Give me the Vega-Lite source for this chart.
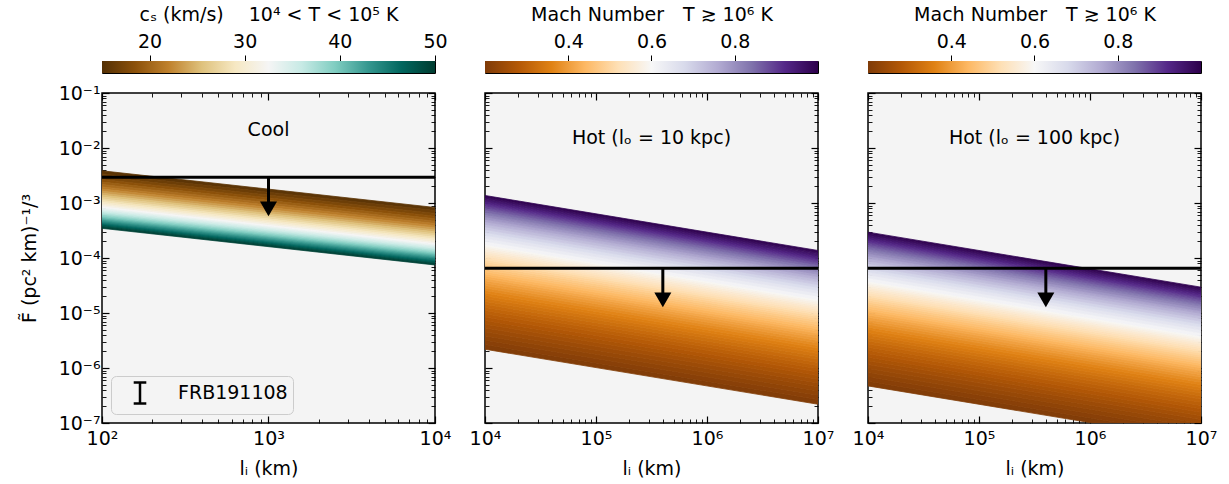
{
"$schema":"https://vega.github.io/schema/vega-lite/v6.json",
"padding":{"left":19,"top":4,"right":0,"bottom":0},
"background":"white",
"config":{"font":"DejaVu Sans","view":{"stroke":null},
"axis":{"labelFontSize":19,"titleFontSize":19,"titleFontWeight":"normal","labelColor":"black","titleColor":"black","tickColor":"black","grid":false,"domain":false,"labelFlush":false,"labelOverlap":false,"labelBound":false},
"title":{"fontSize":19,"fontWeight":"normal","color":"black"},
"legend":{"labelFontSize":19,"labelColor":"black"}},
"datasets":{
"cool":[
{"c":15.5,"l":100,"y":3.849e-3,"y2":3.383e-3},{"c":15.5,"l":10000,"y":8.292e-4,"y2":7.288e-4},
{"c":16.5,"l":100,"y":3.383e-3,"y2":2.997e-3},{"c":16.5,"l":10000,"y":7.288e-4,"y2":6.457e-4},
{"c":17.5,"l":100,"y":2.997e-3,"y2":2.673e-3},{"c":17.5,"l":10000,"y":6.457e-4,"y2":5.759e-4},
{"c":18.5,"l":100,"y":2.673e-3,"y2":2.399e-3},{"c":18.5,"l":10000,"y":5.759e-4,"y2":5.168e-4},
{"c":19.5,"l":100,"y":2.399e-3,"y2":2.165e-3},{"c":19.5,"l":10000,"y":5.168e-4,"y2":4.664e-4},
{"c":20.5,"l":100,"y":2.165e-3,"y2":1.964e-3},{"c":20.5,"l":10000,"y":4.664e-4,"y2":4.231e-4},
{"c":21.5,"l":100,"y":1.964e-3,"y2":1.789e-3},{"c":21.5,"l":10000,"y":4.231e-4,"y2":3.854e-4},
{"c":22.5,"l":100,"y":1.789e-3,"y2":1.637e-3},{"c":22.5,"l":10000,"y":3.854e-4,"y2":3.527e-4},
{"c":23.5,"l":100,"y":1.637e-3,"y2":1.503e-3},{"c":23.5,"l":10000,"y":3.527e-4,"y2":3.238e-4},
{"c":24.5,"l":100,"y":1.503e-3,"y2":1.386e-3},{"c":24.5,"l":10000,"y":3.238e-4,"y2":2.986e-4},
{"c":25.5,"l":100,"y":1.386e-3,"y2":1.281e-3},{"c":25.5,"l":10000,"y":2.986e-4,"y2":2.760e-4},
{"c":26.5,"l":100,"y":1.281e-3,"y2":1.188e-3},{"c":26.5,"l":10000,"y":2.760e-4,"y2":2.559e-4},
{"c":27.5,"l":100,"y":1.188e-3,"y2":1.105e-3},{"c":27.5,"l":10000,"y":2.559e-4,"y2":2.381e-4},
{"c":28.5,"l":100,"y":1.105e-3,"y2":1.030e-3},{"c":28.5,"l":10000,"y":2.381e-4,"y2":2.219e-4},
{"c":29.5,"l":100,"y":1.030e-3,"y2":9.622e-4},{"c":29.5,"l":10000,"y":2.219e-4,"y2":2.073e-4},
{"c":30.5,"l":100,"y":9.622e-4,"y2":9.011e-4},{"c":30.5,"l":10000,"y":2.073e-4,"y2":1.941e-4},
{"c":31.5,"l":100,"y":9.011e-4,"y2":8.457e-4},{"c":31.5,"l":10000,"y":1.941e-4,"y2":1.822e-4},
{"c":32.5,"l":100,"y":8.457e-4,"y2":7.952e-4},{"c":32.5,"l":10000,"y":1.822e-4,"y2":1.713e-4},
{"c":33.5,"l":100,"y":7.952e-4,"y2":7.491e-4},{"c":33.5,"l":10000,"y":1.713e-4,"y2":1.614e-4},
{"c":34.5,"l":100,"y":7.491e-4,"y2":7.069e-4},{"c":34.5,"l":10000,"y":1.614e-4,"y2":1.523e-4},
{"c":35.5,"l":100,"y":7.069e-4,"y2":6.682e-4},{"c":35.5,"l":10000,"y":1.523e-4,"y2":1.440e-4},
{"c":36.5,"l":100,"y":6.682e-4,"y2":6.326e-4},{"c":36.5,"l":10000,"y":1.440e-4,"y2":1.363e-4},
{"c":37.5,"l":100,"y":6.326e-4,"y2":5.997e-4},{"c":37.5,"l":10000,"y":1.363e-4,"y2":1.292e-4},
{"c":38.5,"l":100,"y":5.997e-4,"y2":5.694e-4},{"c":38.5,"l":10000,"y":1.292e-4,"y2":1.227e-4},
{"c":39.5,"l":100,"y":5.694e-4,"y2":5.413e-4},{"c":39.5,"l":10000,"y":1.227e-4,"y2":1.166e-4},
{"c":40.5,"l":100,"y":5.413e-4,"y2":5.152e-4},{"c":40.5,"l":10000,"y":1.166e-4,"y2":1.110e-4},
{"c":41.5,"l":100,"y":5.152e-4,"y2":4.909e-4},{"c":41.5,"l":10000,"y":1.110e-4,"y2":1.058e-4},
{"c":42.5,"l":100,"y":4.909e-4,"y2":4.684e-4},{"c":42.5,"l":10000,"y":1.058e-4,"y2":1.009e-4},
{"c":43.5,"l":100,"y":4.684e-4,"y2":4.473e-4},{"c":43.5,"l":10000,"y":1.009e-4,"y2":9.637e-5},
{"c":44.5,"l":100,"y":4.473e-4,"y2":4.277e-4},{"c":44.5,"l":10000,"y":9.637e-5,"y2":9.214e-5},
{"c":45.5,"l":100,"y":4.277e-4,"y2":4.093e-4},{"c":45.5,"l":10000,"y":9.214e-5,"y2":8.818e-5},
{"c":46.5,"l":100,"y":4.093e-4,"y2":3.920e-4},{"c":46.5,"l":10000,"y":8.818e-5,"y2":8.445e-5},
{"c":47.5,"l":100,"y":3.920e-4,"y2":3.759e-4},{"c":47.5,"l":10000,"y":8.445e-5,"y2":8.099e-5},
{"c":48.5,"l":100,"y":3.759e-4,"y2":3.607e-4},{"c":48.5,"l":10000,"y":8.099e-5,"y2":7.771e-5},
{"c":49.5,"l":100,"y":3.607e-4,"y2":3.464e-4},{"c":49.5,"l":10000,"y":7.771e-5,"y2":7.463e-5}
],
"hot10":[
{"c":0.205,"l":1e4,"y":2.192e-6,"y2":2.664e-6},{"c":0.205,"l":1e7,"y":2.192e-7,"y2":2.664e-7},
{"c":0.215,"l":1e4,"y":2.664e-6,"y2":3.209e-6},{"c":0.215,"l":1e7,"y":2.664e-7,"y2":3.209e-7},
{"c":0.225,"l":1e4,"y":3.209e-6,"y2":3.834e-6},{"c":0.225,"l":1e7,"y":3.209e-7,"y2":3.834e-7},
{"c":0.235,"l":1e4,"y":3.834e-6,"y2":4.545e-6},{"c":0.235,"l":1e7,"y":3.834e-7,"y2":4.545e-7},
{"c":0.245,"l":1e4,"y":4.545e-6,"y2":5.352e-6},{"c":0.245,"l":1e7,"y":4.545e-7,"y2":5.352e-7},
{"c":0.255,"l":1e4,"y":5.352e-6,"y2":6.261e-6},{"c":0.255,"l":1e7,"y":5.352e-7,"y2":6.261e-7},
{"c":0.265,"l":1e4,"y":6.261e-6,"y2":7.281e-6},{"c":0.265,"l":1e7,"y":6.261e-7,"y2":7.281e-7},
{"c":0.275,"l":1e4,"y":7.281e-6,"y2":8.421e-6},{"c":0.275,"l":1e7,"y":7.281e-7,"y2":8.421e-7},
{"c":0.285,"l":1e4,"y":8.421e-6,"y2":9.690e-6},{"c":0.285,"l":1e7,"y":8.421e-7,"y2":9.690e-7},
{"c":0.295,"l":1e4,"y":9.690e-6,"y2":1.110e-5},{"c":0.295,"l":1e7,"y":9.690e-7,"y2":1.110e-6},
{"c":0.305,"l":1e4,"y":1.110e-5,"y2":1.265e-5},{"c":0.305,"l":1e7,"y":1.110e-6,"y2":1.265e-6},
{"c":0.315,"l":1e4,"y":1.265e-5,"y2":1.437e-5},{"c":0.315,"l":1e7,"y":1.265e-6,"y2":1.437e-6},
{"c":0.325,"l":1e4,"y":1.437e-5,"y2":1.625e-5},{"c":0.325,"l":1e7,"y":1.437e-6,"y2":1.625e-6},
{"c":0.335,"l":1e4,"y":1.625e-5,"y2":1.831e-5},{"c":0.335,"l":1e7,"y":1.625e-6,"y2":1.831e-6},
{"c":0.345,"l":1e4,"y":1.831e-5,"y2":2.056e-5},{"c":0.345,"l":1e7,"y":1.831e-6,"y2":2.056e-6},
{"c":0.355,"l":1e4,"y":2.056e-5,"y2":2.301e-5},{"c":0.355,"l":1e7,"y":2.056e-6,"y2":2.301e-6},
{"c":0.365,"l":1e4,"y":2.301e-5,"y2":2.568e-5},{"c":0.365,"l":1e7,"y":2.301e-6,"y2":2.568e-6},
{"c":0.375,"l":1e4,"y":2.568e-5,"y2":2.857e-5},{"c":0.375,"l":1e7,"y":2.568e-6,"y2":2.857e-6},
{"c":0.385,"l":1e4,"y":2.857e-5,"y2":3.169e-5},{"c":0.385,"l":1e7,"y":2.857e-6,"y2":3.169e-6},
{"c":0.395,"l":1e4,"y":3.169e-5,"y2":3.507e-5},{"c":0.395,"l":1e7,"y":3.169e-6,"y2":3.507e-6},
{"c":0.405,"l":1e4,"y":3.507e-5,"y2":3.871e-5},{"c":0.405,"l":1e7,"y":3.507e-6,"y2":3.871e-6},
{"c":0.415,"l":1e4,"y":3.871e-5,"y2":4.263e-5},{"c":0.415,"l":1e7,"y":3.871e-6,"y2":4.263e-6},
{"c":0.425,"l":1e4,"y":4.263e-5,"y2":4.684e-5},{"c":0.425,"l":1e7,"y":4.263e-6,"y2":4.684e-6},
{"c":0.435,"l":1e4,"y":4.684e-5,"y2":5.135e-5},{"c":0.435,"l":1e7,"y":4.684e-6,"y2":5.135e-6},
{"c":0.445,"l":1e4,"y":5.135e-5,"y2":5.618e-5},{"c":0.445,"l":1e7,"y":5.135e-6,"y2":5.618e-6},
{"c":0.455,"l":1e4,"y":5.618e-5,"y2":6.134e-5},{"c":0.455,"l":1e7,"y":5.618e-6,"y2":6.134e-6},
{"c":0.465,"l":1e4,"y":6.134e-5,"y2":6.685e-5},{"c":0.465,"l":1e7,"y":6.134e-6,"y2":6.685e-6},
{"c":0.475,"l":1e4,"y":6.685e-5,"y2":7.273e-5},{"c":0.475,"l":1e7,"y":6.685e-6,"y2":7.273e-6},
{"c":0.485,"l":1e4,"y":7.273e-5,"y2":7.898e-5},{"c":0.485,"l":1e7,"y":7.273e-6,"y2":7.898e-6},
{"c":0.495,"l":1e4,"y":7.898e-5,"y2":8.563e-5},{"c":0.495,"l":1e7,"y":7.898e-6,"y2":8.563e-6},
{"c":0.505,"l":1e4,"y":8.563e-5,"y2":9.268e-5},{"c":0.505,"l":1e7,"y":8.563e-6,"y2":9.268e-6},
{"c":0.515,"l":1e4,"y":9.268e-5,"y2":1.002e-4},{"c":0.515,"l":1e7,"y":9.268e-6,"y2":1.002e-5},
{"c":0.525,"l":1e4,"y":1.002e-4,"y2":1.081e-4},{"c":0.525,"l":1e7,"y":1.002e-5,"y2":1.081e-5},
{"c":0.535,"l":1e4,"y":1.081e-4,"y2":1.165e-4},{"c":0.535,"l":1e7,"y":1.081e-5,"y2":1.165e-5},
{"c":0.545,"l":1e4,"y":1.165e-4,"y2":1.254e-4},{"c":0.545,"l":1e7,"y":1.165e-5,"y2":1.254e-5},
{"c":0.555,"l":1e4,"y":1.254e-4,"y2":1.347e-4},{"c":0.555,"l":1e7,"y":1.254e-5,"y2":1.347e-5},
{"c":0.565,"l":1e4,"y":1.347e-4,"y2":1.446e-4},{"c":0.565,"l":1e7,"y":1.347e-5,"y2":1.446e-5},
{"c":0.575,"l":1e4,"y":1.446e-4,"y2":1.550e-4},{"c":0.575,"l":1e7,"y":1.446e-5,"y2":1.550e-5},
{"c":0.585,"l":1e4,"y":1.550e-4,"y2":1.660e-4},{"c":0.585,"l":1e7,"y":1.550e-5,"y2":1.660e-5},
{"c":0.595,"l":1e4,"y":1.660e-4,"y2":1.776e-4},{"c":0.595,"l":1e7,"y":1.660e-5,"y2":1.776e-5},
{"c":0.61,"l":1e4,"y":1.776e-4,"y2":2.024e-4},{"c":0.61,"l":1e7,"y":1.776e-5,"y2":2.024e-5},
{"c":0.63,"l":1e4,"y":2.024e-4,"y2":2.299e-4},{"c":0.63,"l":1e7,"y":2.024e-5,"y2":2.299e-5},
{"c":0.65,"l":1e4,"y":2.299e-4,"y2":2.600e-4},{"c":0.65,"l":1e7,"y":2.299e-5,"y2":2.600e-5},
{"c":0.67,"l":1e4,"y":2.600e-4,"y2":2.929e-4},{"c":0.67,"l":1e7,"y":2.600e-5,"y2":2.929e-5},
{"c":0.69,"l":1e4,"y":2.929e-4,"y2":3.289e-4},{"c":0.69,"l":1e7,"y":2.929e-5,"y2":3.289e-5},
{"c":0.71,"l":1e4,"y":3.289e-4,"y2":3.682e-4},{"c":0.71,"l":1e7,"y":3.289e-5,"y2":3.682e-5},
{"c":0.73,"l":1e4,"y":3.682e-4,"y2":4.108e-4},{"c":0.73,"l":1e7,"y":3.682e-5,"y2":4.108e-5},
{"c":0.75,"l":1e4,"y":4.108e-4,"y2":4.571e-4},{"c":0.75,"l":1e7,"y":4.108e-5,"y2":4.571e-5},
{"c":0.77,"l":1e4,"y":4.571e-4,"y2":5.071e-4},{"c":0.77,"l":1e7,"y":4.571e-5,"y2":5.071e-5},
{"c":0.79,"l":1e4,"y":5.071e-4,"y2":5.612e-4},{"c":0.79,"l":1e7,"y":5.071e-5,"y2":5.612e-5},
{"c":0.81,"l":1e4,"y":5.612e-4,"y2":6.194e-4},{"c":0.81,"l":1e7,"y":5.612e-5,"y2":6.194e-5},
{"c":0.83,"l":1e4,"y":6.194e-4,"y2":6.821e-4},{"c":0.83,"l":1e7,"y":6.194e-5,"y2":6.821e-5},
{"c":0.85,"l":1e4,"y":6.821e-4,"y2":7.494e-4},{"c":0.85,"l":1e7,"y":6.821e-5,"y2":7.494e-5},
{"c":0.87,"l":1e4,"y":7.494e-4,"y2":8.216e-4},{"c":0.87,"l":1e7,"y":7.494e-5,"y2":8.216e-5},
{"c":0.89,"l":1e4,"y":8.216e-4,"y2":8.989e-4},{"c":0.89,"l":1e7,"y":8.216e-5,"y2":8.989e-5},
{"c":0.91,"l":1e4,"y":8.989e-4,"y2":9.815e-4},{"c":0.91,"l":1e7,"y":8.989e-5,"y2":9.815e-5},
{"c":0.93,"l":1e4,"y":9.815e-4,"y2":1.070e-3},{"c":0.93,"l":1e7,"y":9.815e-5,"y2":1.070e-4},
{"c":0.95,"l":1e4,"y":1.070e-3,"y2":1.164e-3},{"c":0.95,"l":1e7,"y":1.070e-4,"y2":1.164e-4},
{"c":0.97,"l":1e4,"y":1.164e-3,"y2":1.264e-3},{"c":0.97,"l":1e7,"y":1.164e-4,"y2":1.264e-4},
{"c":0.99,"l":1e4,"y":1.264e-3,"y2":1.370e-3},{"c":0.99,"l":1e7,"y":1.264e-4,"y2":1.370e-4}
],
"hot100":[
{"c":0.205,"l":1e4,"y":4.722e-7,"y2":5.739e-7},{"c":0.205,"l":1e7,"y":4.722e-8,"y2":5.739e-8},
{"c":0.215,"l":1e4,"y":5.739e-7,"y2":6.914e-7},{"c":0.215,"l":1e7,"y":5.739e-8,"y2":6.914e-8},
{"c":0.225,"l":1e4,"y":6.914e-7,"y2":8.260e-7},{"c":0.225,"l":1e7,"y":6.914e-8,"y2":8.260e-8},
{"c":0.235,"l":1e4,"y":8.260e-7,"y2":9.792e-7},{"c":0.235,"l":1e7,"y":8.260e-8,"y2":9.792e-8},
{"c":0.245,"l":1e4,"y":9.792e-7,"y2":1.153e-6},{"c":0.245,"l":1e7,"y":9.792e-8,"y2":1.153e-7},
{"c":0.255,"l":1e4,"y":1.153e-6,"y2":1.349e-6},{"c":0.255,"l":1e7,"y":1.153e-7,"y2":1.349e-7},
{"c":0.265,"l":1e4,"y":1.349e-6,"y2":1.569e-6},{"c":0.265,"l":1e7,"y":1.349e-7,"y2":1.569e-7},
{"c":0.275,"l":1e4,"y":1.569e-6,"y2":1.814e-6},{"c":0.275,"l":1e7,"y":1.569e-7,"y2":1.814e-7},
{"c":0.285,"l":1e4,"y":1.814e-6,"y2":2.088e-6},{"c":0.285,"l":1e7,"y":1.814e-7,"y2":2.088e-7},
{"c":0.295,"l":1e4,"y":2.088e-6,"y2":2.391e-6},{"c":0.295,"l":1e7,"y":2.088e-7,"y2":2.391e-7},
{"c":0.305,"l":1e4,"y":2.391e-6,"y2":2.725e-6},{"c":0.305,"l":1e7,"y":2.391e-7,"y2":2.725e-7},
{"c":0.315,"l":1e4,"y":2.725e-6,"y2":3.095e-6},{"c":0.315,"l":1e7,"y":2.725e-7,"y2":3.095e-7},
{"c":0.325,"l":1e4,"y":3.095e-6,"y2":3.501e-6},{"c":0.325,"l":1e7,"y":3.095e-7,"y2":3.501e-7},
{"c":0.335,"l":1e4,"y":3.501e-6,"y2":3.944e-6},{"c":0.335,"l":1e7,"y":3.501e-7,"y2":3.944e-7},
{"c":0.345,"l":1e4,"y":3.944e-6,"y2":4.429e-6},{"c":0.345,"l":1e7,"y":3.944e-7,"y2":4.429e-7},
{"c":0.355,"l":1e4,"y":4.429e-6,"y2":4.958e-6},{"c":0.355,"l":1e7,"y":4.429e-7,"y2":4.958e-7},
{"c":0.365,"l":1e4,"y":4.958e-6,"y2":5.533e-6},{"c":0.365,"l":1e7,"y":4.958e-7,"y2":5.533e-7},
{"c":0.375,"l":1e4,"y":5.533e-6,"y2":6.154e-6},{"c":0.375,"l":1e7,"y":5.533e-7,"y2":6.154e-7},
{"c":0.385,"l":1e4,"y":6.154e-6,"y2":6.827e-6},{"c":0.385,"l":1e7,"y":6.154e-7,"y2":6.827e-7},
{"c":0.395,"l":1e4,"y":6.827e-6,"y2":7.556e-6},{"c":0.395,"l":1e7,"y":6.827e-7,"y2":7.556e-7},
{"c":0.405,"l":1e4,"y":7.556e-6,"y2":8.340e-6},{"c":0.405,"l":1e7,"y":7.556e-7,"y2":8.340e-7},
{"c":0.415,"l":1e4,"y":8.340e-6,"y2":9.184e-6},{"c":0.415,"l":1e7,"y":8.340e-7,"y2":9.184e-7},
{"c":0.425,"l":1e4,"y":9.184e-6,"y2":1.009e-5},{"c":0.425,"l":1e7,"y":9.184e-7,"y2":1.009e-6},
{"c":0.435,"l":1e4,"y":1.009e-5,"y2":1.106e-5},{"c":0.435,"l":1e7,"y":1.009e-6,"y2":1.106e-6},
{"c":0.445,"l":1e4,"y":1.106e-5,"y2":1.210e-5},{"c":0.445,"l":1e7,"y":1.106e-6,"y2":1.210e-6},
{"c":0.455,"l":1e4,"y":1.210e-5,"y2":1.322e-5},{"c":0.455,"l":1e7,"y":1.210e-6,"y2":1.322e-6},
{"c":0.465,"l":1e4,"y":1.322e-5,"y2":1.440e-5},{"c":0.465,"l":1e7,"y":1.322e-6,"y2":1.440e-6},
{"c":0.475,"l":1e4,"y":1.440e-5,"y2":1.567e-5},{"c":0.475,"l":1e7,"y":1.440e-6,"y2":1.567e-6},
{"c":0.485,"l":1e4,"y":1.567e-5,"y2":1.702e-5},{"c":0.485,"l":1e7,"y":1.567e-6,"y2":1.702e-6},
{"c":0.495,"l":1e4,"y":1.702e-5,"y2":1.845e-5},{"c":0.495,"l":1e7,"y":1.702e-6,"y2":1.845e-6},
{"c":0.505,"l":1e4,"y":1.845e-5,"y2":1.997e-5},{"c":0.505,"l":1e7,"y":1.845e-6,"y2":1.997e-6},
{"c":0.515,"l":1e4,"y":1.997e-5,"y2":2.158e-5},{"c":0.515,"l":1e7,"y":1.997e-6,"y2":2.158e-6},
{"c":0.525,"l":1e4,"y":2.158e-5,"y2":2.329e-5},{"c":0.525,"l":1e7,"y":2.158e-6,"y2":2.329e-6},
{"c":0.535,"l":1e4,"y":2.329e-5,"y2":2.510e-5},{"c":0.535,"l":1e7,"y":2.329e-6,"y2":2.510e-6},
{"c":0.545,"l":1e4,"y":2.510e-5,"y2":2.702e-5},{"c":0.545,"l":1e7,"y":2.510e-6,"y2":2.702e-6},
{"c":0.555,"l":1e4,"y":2.702e-5,"y2":2.903e-5},{"c":0.555,"l":1e7,"y":2.702e-6,"y2":2.903e-6},
{"c":0.565,"l":1e4,"y":2.903e-5,"y2":3.115e-5},{"c":0.565,"l":1e7,"y":2.903e-6,"y2":3.115e-6},
{"c":0.575,"l":1e4,"y":3.115e-5,"y2":3.340e-5},{"c":0.575,"l":1e7,"y":3.115e-6,"y2":3.340e-6},
{"c":0.585,"l":1e4,"y":3.340e-5,"y2":3.576e-5},{"c":0.585,"l":1e7,"y":3.340e-6,"y2":3.576e-6},
{"c":0.595,"l":1e4,"y":3.576e-5,"y2":3.825e-5},{"c":0.595,"l":1e7,"y":3.576e-6,"y2":3.825e-6},
{"c":0.61,"l":1e4,"y":3.825e-5,"y2":4.361e-5},{"c":0.61,"l":1e7,"y":3.825e-6,"y2":4.361e-6},
{"c":0.63,"l":1e4,"y":4.361e-5,"y2":4.952e-5},{"c":0.63,"l":1e7,"y":4.361e-6,"y2":4.952e-6},
{"c":0.65,"l":1e4,"y":4.952e-5,"y2":5.600e-5},{"c":0.65,"l":1e7,"y":4.952e-6,"y2":5.600e-6},
{"c":0.67,"l":1e4,"y":5.600e-5,"y2":6.311e-5},{"c":0.67,"l":1e7,"y":5.600e-6,"y2":6.311e-6},
{"c":0.69,"l":1e4,"y":6.311e-5,"y2":7.087e-5},{"c":0.69,"l":1e7,"y":6.311e-6,"y2":7.087e-6},
{"c":0.71,"l":1e4,"y":7.087e-5,"y2":7.932e-5},{"c":0.71,"l":1e7,"y":7.087e-6,"y2":7.932e-6},
{"c":0.73,"l":1e4,"y":7.932e-5,"y2":8.851e-5},{"c":0.73,"l":1e7,"y":7.932e-6,"y2":8.851e-6},
{"c":0.75,"l":1e4,"y":8.851e-5,"y2":9.847e-5},{"c":0.75,"l":1e7,"y":8.851e-6,"y2":9.847e-6},
{"c":0.77,"l":1e4,"y":9.847e-5,"y2":1.093e-4},{"c":0.77,"l":1e7,"y":9.847e-6,"y2":1.093e-5},
{"c":0.79,"l":1e4,"y":1.093e-4,"y2":1.209e-4},{"c":0.79,"l":1e7,"y":1.093e-5,"y2":1.209e-5},
{"c":0.81,"l":1e4,"y":1.209e-4,"y2":1.335e-4},{"c":0.81,"l":1e7,"y":1.209e-5,"y2":1.335e-5},
{"c":0.83,"l":1e4,"y":1.335e-4,"y2":1.470e-4},{"c":0.83,"l":1e7,"y":1.335e-5,"y2":1.470e-5},
{"c":0.85,"l":1e4,"y":1.470e-4,"y2":1.615e-4},{"c":0.85,"l":1e7,"y":1.470e-5,"y2":1.615e-5},
{"c":0.87,"l":1e4,"y":1.615e-4,"y2":1.770e-4},{"c":0.87,"l":1e7,"y":1.615e-5,"y2":1.770e-5},
{"c":0.89,"l":1e4,"y":1.770e-4,"y2":1.937e-4},{"c":0.89,"l":1e7,"y":1.770e-5,"y2":1.937e-5},
{"c":0.91,"l":1e4,"y":1.937e-4,"y2":2.115e-4},{"c":0.91,"l":1e7,"y":1.937e-5,"y2":2.115e-5},
{"c":0.93,"l":1e4,"y":2.115e-4,"y2":2.304e-4},{"c":0.93,"l":1e7,"y":2.115e-5,"y2":2.304e-5},
{"c":0.95,"l":1e4,"y":2.304e-4,"y2":2.507e-4},{"c":0.95,"l":1e7,"y":2.304e-5,"y2":2.507e-5},
{"c":0.97,"l":1e4,"y":2.507e-4,"y2":2.722e-4},{"c":0.97,"l":1e7,"y":2.507e-5,"y2":2.722e-5},
{"c":0.99,"l":1e4,"y":2.722e-4,"y2":2.952e-4},{"c":0.99,"l":1e7,"y":2.722e-5,"y2":2.952e-5}
],
"lim1":[{"l":1000,"F":2.94e-3,"Fh":7.82e-4}],
"limh":[{"l":4e5,"F":6.5e-5,"Fh":1.73e-5}]
},
"columns":3,
"spacing":{"row":20,"column":50},
"bounds":"flush",
"resolve":{"scale":{"x":"independent","y":"independent","color":"independent","stroke":"independent","strokeDash":"independent"},"legend":{"color":"independent","stroke":"independent","strokeDash":"independent"},"axis":{"x":"independent","y":"independent"}},
"concat":[
{"width":333,"height":12,"data":{"name":"lim1"},"view":{"stroke":"black","strokeWidth":1},
"mark":{"type":"rect","color":{"gradient":"linear","x1":0,"y1":0,"x2":1,"y2":0,"stops":[{"offset":0,"color":"#543005"},{"offset":0.1,"color":"#8c510a"},{"offset":0.2,"color":"#bf812d"},{"offset":0.3,"color":"#dfc27d"},{"offset":0.4,"color":"#f6e8c3"},{"offset":0.5,"color":"#f5f5f5"},{"offset":0.6,"color":"#c7eae5"},{"offset":0.7,"color":"#80cdc1"},{"offset":0.8,"color":"#35978f"},{"offset":0.9,"color":"#01665e"},{"offset":1,"color":"#003c30"}]}},
"encoding":{
"x":{"datum":15,"type":"quantitative","scale":{"domain":[15,50],"nice":false,"zero":false},"axis":{"orient":"top","values":[20,30,40,50],"format":"d","tickSize":6,"tickWidth":1,"labelPadding":4,"title":"cₛ (km/s)\u2003 10⁴ < T < 10⁵ K","titlePadding":8}},
"x2":{"datum":50}}},
{"width":333,"height":12,"data":{"name":"limh"},"view":{"stroke":"black","strokeWidth":1},
"mark":{"type":"rect","color":{"gradient":"linear","x1":0,"y1":0,"x2":1,"y2":0,"stops":[{"offset":0,"color":"#7f3b08"},{"offset":0.1,"color":"#b35806"},{"offset":0.2,"color":"#e08214"},{"offset":0.3,"color":"#fdb863"},{"offset":0.4,"color":"#fee0b6"},{"offset":0.5,"color":"#f7f7f7"},{"offset":0.6,"color":"#d8daeb"},{"offset":0.7,"color":"#b2abd2"},{"offset":0.8,"color":"#8073ac"},{"offset":0.9,"color":"#542788"},{"offset":1,"color":"#2d004b"}]}},
"encoding":{
"x":{"datum":0.2,"type":"quantitative","scale":{"domain":[0.2,1],"nice":false,"zero":false},"axis":{"orient":"top","values":[0.4,0.6,0.8],"format":".1f","tickSize":6,"tickWidth":1,"labelPadding":4,"title":"Mach Number\u2003T ≳ 10⁶ K","titlePadding":8}},
"x2":{"datum":1}}},
{"width":333,"height":12,"data":{"name":"limh"},"view":{"stroke":"black","strokeWidth":1},
"mark":{"type":"rect","color":{"gradient":"linear","x1":0,"y1":0,"x2":1,"y2":0,"stops":[{"offset":0,"color":"#7f3b08"},{"offset":0.1,"color":"#b35806"},{"offset":0.2,"color":"#e08214"},{"offset":0.3,"color":"#fdb863"},{"offset":0.4,"color":"#fee0b6"},{"offset":0.5,"color":"#f7f7f7"},{"offset":0.6,"color":"#d8daeb"},{"offset":0.7,"color":"#b2abd2"},{"offset":0.8,"color":"#8073ac"},{"offset":0.9,"color":"#542788"},{"offset":1,"color":"#2d004b"}]}},
"encoding":{
"x":{"datum":0.2,"type":"quantitative","scale":{"domain":[0.2,1],"nice":false,"zero":false},"axis":{"orient":"top","values":[0.4,0.6,0.8],"format":".1f","tickSize":6,"tickWidth":1,"labelPadding":4,"title":"Mach Number\u2003T ≳ 10⁶ K","titlePadding":8}},
"x2":{"datum":1}}},

{"width":333,"height":330,"view":{"fill":"#f4f4f4","stroke":"black","strokeWidth":1.5},
"title":{"text":"Cool","offset":-71,"baseline":"alphabetic","anchor":"middle","fontSize":19,"fontWeight":"normal"},
"resolve":{"axis":{"x":"independent","y":"independent"}},
"layer":[
{"data":{"name":"cool"},"mark":{"type":"area","clip":true,"strokeWidth":0.8},
"encoding":{
"x":{"field":"l","type":"quantitative","scale":{"type":"log","domain":[100,10000],"nice":false},"axis":{"orient":"bottom","values":[100,1000,10000],"labelExpr":"datum.value < 500 ? '10²' : datum.value < 5000 ? '10³' : '10⁴'","tickSize":-7,"tickWidth":1.2,"labelPadding":13,"title":"lᵢ (km)","titlePadding":11}},
"y":{"field":"y","type":"quantitative","scale":{"type":"log","domain":[1e-7,0.1],"nice":false},"axis":{"orient":"left","values":[1e-7,1e-6,1e-5,1e-4,1e-3,1e-2,1e-1],"labelExpr":"datum.value < 5e-7 ? '10⁻⁷' : datum.value < 5e-6 ? '10⁻⁶' : datum.value < 5e-5 ? '10⁻⁵' : datum.value < 5e-4 ? '10⁻⁴' : datum.value < 5e-3 ? '10⁻³' : datum.value < 5e-2 ? '10⁻²' : '10⁻¹'","tickSize":-7,"tickWidth":1.2,"labelPadding":9,"title":"F\u0303 (pc² km)⁻¹/³","titlePadding":19}},
"y2":{"field":"y2"},
"color":{"field":"c","type":"quantitative","scale":{"domain":[15,18.5,22,25.5,29,32.5,36,39.5,43,46.5,50],"range":["#543005","#8c510a","#bf812d","#dfc27d","#f6e8c3","#f5f5f5","#c7eae5","#80cdc1","#35978f","#01665e","#003c30"],"interpolate":"rgb"},"legend":null},
"stroke":{"field":"c","type":"quantitative","scale":{"domain":[15,18.5,22,25.5,29,32.5,36,39.5,43,46.5,50],"range":["#543005","#8c510a","#bf812d","#dfc27d","#f6e8c3","#f5f5f5","#c7eae5","#80cdc1","#35978f","#01665e","#003c30"],"interpolate":"rgb"},"legend":null},
"detail":{"field":"c","type":"nominal"}}},
{"data":{"name":"lim1"},"mark":{"type":"rule","color":"black","strokeWidth":3},
"encoding":{
"x":{"datum":100,"type":"quantitative","scale":{"type":"log","domain":[100,10000],"nice":false},"axis":{"orient":"top","values":[100,1000,10000],"labels":false,"tickSize":-7,"tickWidth":1.2,"title":null}},
"x2":{"datum":10000},
"y":{"field":"F","type":"quantitative","scale":{"type":"log","domain":[1e-7,0.1],"nice":false},"axis":{"orient":"right","values":[1e-7,1e-6,1e-5,1e-4,1e-3,1e-2,1e-1],"labels":false,"tickSize":-7,"tickWidth":1.2,"title":null}}}},
{"data":{"name":"lim1"},"mark":{"type":"rule","color":"black","strokeWidth":3},
"encoding":{
"x":{"field":"l","type":"quantitative","scale":{"type":"log","domain":[100,10000],"nice":false},"axis":{"orient":"bottom","values":[200,300,400,500,600,700,800,900,2000,3000,4000,5000,6000,7000,8000,9000],"labels":false,"tickSize":-4,"tickWidth":0.9,"title":null}},
"y":{"field":"F","type":"quantitative","scale":{"type":"log","domain":[1e-7,0.1],"nice":false},"axis":{"orient":"left","values":[2e-7,3e-7,4e-7,5e-7,6e-7,7e-7,8e-7,9e-7,2e-6,3e-6,4e-6,5e-6,6e-6,7e-6,8e-6,9e-6,2e-5,3e-5,4e-5,5e-5,6e-5,7e-5,8e-5,9e-5,2e-4,3e-4,4e-4,5e-4,6e-4,7e-4,8e-4,9e-4,2e-3,3e-3,4e-3,5e-3,6e-3,7e-3,8e-3,9e-3,2e-2,3e-2,4e-2,5e-2,6e-2,7e-2,8e-2,9e-2],"labels":false,"tickSize":-4,"tickWidth":0.9,"title":null}},
"y2":{"field":"Fh"},
"strokeDash":{"datum":"FRB191108","type":"nominal","scale":{"range":[[1,0]]},
"legend":{"title":null,"orient":"bottom-left","offset":9,"padding":5,"fillColor":"#f4f4f4","strokeColor":"#cccccc","cornerRadius":5,"labelFontSize":19,"labelColor":"black","labelOffset":26,"symbolOffset":12,"symbolSize":441,"symbolType":"M0,-1L0,1M-0.6,-1L0.6,-1M-0.6,1L0.6,1","symbolStrokeWidth":2.5,"symbolStrokeColor":"black","symbolFillColor":"transparent","symbolOpacity":1}}}},
{"data":{"name":"lim1"},"mark":{"type":"point","shape":"triangle-down","filled":true,"size":290,"color":"black","opacity":1,"strokeWidth":0},
"encoding":{
"x":{"field":"l","type":"quantitative","scale":{"type":"log","domain":[100,10000],"nice":false},"axis":{"orient":"top","values":[200,300,400,500,600,700,800,900,2000,3000,4000,5000,6000,7000,8000,9000],"labels":false,"tickSize":-4,"tickWidth":0.9,"title":null}},
"y":{"field":"Fh","type":"quantitative","scale":{"type":"log","domain":[1e-7,0.1],"nice":false},"axis":{"orient":"right","values":[2e-7,3e-7,4e-7,5e-7,6e-7,7e-7,8e-7,9e-7,2e-6,3e-6,4e-6,5e-6,6e-6,7e-6,8e-6,9e-6,2e-5,3e-5,4e-5,5e-5,6e-5,7e-5,8e-5,9e-5,2e-4,3e-4,4e-4,5e-4,6e-4,7e-4,8e-4,9e-4,2e-3,3e-3,4e-3,5e-3,6e-3,7e-3,8e-3,9e-3,2e-2,3e-2,4e-2,5e-2,6e-2,7e-2,8e-2,9e-2],"labels":false,"tickSize":-4,"tickWidth":0.9,"title":null}}}}
]},

{"width":333,"height":330,"view":{"fill":"#f4f4f4","stroke":"black","strokeWidth":1.5},
"title":{"text":"Hot (lₒ = 10 kpc)","offset":-71,"baseline":"alphabetic","anchor":"middle","fontSize":19,"fontWeight":"normal"},
"resolve":{"axis":{"x":"independent","y":"independent"}},
"layer":[
{"data":{"name":"hot10"},"mark":{"type":"area","clip":true,"strokeWidth":0.8},
"encoding":{
"x":{"field":"l","type":"quantitative","scale":{"type":"log","domain":[10000,10000000],"nice":false},"axis":{"orient":"bottom","values":[1e4,1e5,1e6,1e7],"labelExpr":"datum.value < 5e4 ? '10⁴' : datum.value < 5e5 ? '10⁵' : datum.value < 5e6 ? '10⁶' : '10⁷'","tickSize":-7,"tickWidth":1.2,"labelPadding":13,"title":"lᵢ (km)","titlePadding":11}},
"y":{"field":"y","type":"quantitative","scale":{"type":"log","domain":[1e-7,0.1],"nice":false},"axis":{"orient":"left","values":[1e-7,1e-6,1e-5,1e-4,1e-3,1e-2,1e-1],"labels":false,"tickSize":-7,"tickWidth":1.2,"title":null}},
"y2":{"field":"y2"},
"color":{"field":"c","type":"quantitative","scale":{"domain":[0.2,0.28,0.36,0.44,0.52,0.6,0.68,0.76,0.84,0.92,1.0],"range":["#7f3b08","#b35806","#e08214","#fdb863","#fee0b6","#f7f7f7","#d8daeb","#b2abd2","#8073ac","#542788","#2d004b"],"interpolate":"rgb"},"legend":null},
"stroke":{"field":"c","type":"quantitative","scale":{"domain":[0.2,0.28,0.36,0.44,0.52,0.6,0.68,0.76,0.84,0.92,1.0],"range":["#7f3b08","#b35806","#e08214","#fdb863","#fee0b6","#f7f7f7","#d8daeb","#b2abd2","#8073ac","#542788","#2d004b"],"interpolate":"rgb"},"legend":null},
"detail":{"field":"c","type":"nominal"}}},
{"data":{"name":"limh"},"mark":{"type":"rule","color":"black","strokeWidth":3},
"encoding":{
"x":{"datum":10000,"type":"quantitative","scale":{"type":"log","domain":[10000,10000000],"nice":false},"axis":{"orient":"top","values":[1e4,1e5,1e6,1e7],"labels":false,"tickSize":-7,"tickWidth":1.2,"title":null}},
"x2":{"datum":10000000},
"y":{"field":"F","type":"quantitative","scale":{"type":"log","domain":[1e-7,0.1],"nice":false},"axis":{"orient":"right","values":[1e-7,1e-6,1e-5,1e-4,1e-3,1e-2,1e-1],"labels":false,"tickSize":-7,"tickWidth":1.2,"title":null}}}},
{"data":{"name":"limh"},"mark":{"type":"rule","color":"black","strokeWidth":3},
"encoding":{
"x":{"field":"l","type":"quantitative","scale":{"type":"log","domain":[10000,10000000],"nice":false},"axis":{"orient":"bottom","values":[2e4,3e4,4e4,5e4,6e4,7e4,8e4,9e4,2e5,3e5,4e5,5e5,6e5,7e5,8e5,9e5,2e6,3e6,4e6,5e6,6e6,7e6,8e6,9e6],"labels":false,"tickSize":-4,"tickWidth":0.9,"title":null}},
"y":{"field":"F","type":"quantitative","scale":{"type":"log","domain":[1e-7,0.1],"nice":false},"axis":{"orient":"left","values":[2e-7,3e-7,4e-7,5e-7,6e-7,7e-7,8e-7,9e-7,2e-6,3e-6,4e-6,5e-6,6e-6,7e-6,8e-6,9e-6,2e-5,3e-5,4e-5,5e-5,6e-5,7e-5,8e-5,9e-5,2e-4,3e-4,4e-4,5e-4,6e-4,7e-4,8e-4,9e-4,2e-3,3e-3,4e-3,5e-3,6e-3,7e-3,8e-3,9e-3,2e-2,3e-2,4e-2,5e-2,6e-2,7e-2,8e-2,9e-2],"labels":false,"tickSize":-4,"tickWidth":0.9,"title":null}},
"y2":{"field":"Fh"}}},
{"data":{"name":"limh"},"mark":{"type":"point","shape":"triangle-down","filled":true,"size":290,"color":"black","opacity":1,"strokeWidth":0},
"encoding":{
"x":{"field":"l","type":"quantitative","scale":{"type":"log","domain":[10000,10000000],"nice":false},"axis":{"orient":"top","values":[2e4,3e4,4e4,5e4,6e4,7e4,8e4,9e4,2e5,3e5,4e5,5e5,6e5,7e5,8e5,9e5,2e6,3e6,4e6,5e6,6e6,7e6,8e6,9e6],"labels":false,"tickSize":-4,"tickWidth":0.9,"title":null}},
"y":{"field":"Fh","type":"quantitative","scale":{"type":"log","domain":[1e-7,0.1],"nice":false},"axis":{"orient":"right","values":[2e-7,3e-7,4e-7,5e-7,6e-7,7e-7,8e-7,9e-7,2e-6,3e-6,4e-6,5e-6,6e-6,7e-6,8e-6,9e-6,2e-5,3e-5,4e-5,5e-5,6e-5,7e-5,8e-5,9e-5,2e-4,3e-4,4e-4,5e-4,6e-4,7e-4,8e-4,9e-4,2e-3,3e-3,4e-3,5e-3,6e-3,7e-3,8e-3,9e-3,2e-2,3e-2,4e-2,5e-2,6e-2,7e-2,8e-2,9e-2],"labels":false,"tickSize":-4,"tickWidth":0.9,"title":null}}}}
]},

{"width":333,"height":330,"view":{"fill":"#f4f4f4","stroke":"black","strokeWidth":1.5},
"title":{"text":"Hot (lₒ = 100 kpc)","offset":-71,"baseline":"alphabetic","anchor":"middle","fontSize":19,"fontWeight":"normal"},
"resolve":{"axis":{"x":"independent","y":"independent"}},
"layer":[
{"data":{"name":"hot100"},"mark":{"type":"area","clip":true,"strokeWidth":0.8},
"encoding":{
"x":{"field":"l","type":"quantitative","scale":{"type":"log","domain":[10000,10000000],"nice":false},"axis":{"orient":"bottom","values":[1e4,1e5,1e6,1e7],"labelExpr":"datum.value < 5e4 ? '10⁴' : datum.value < 5e5 ? '10⁵' : datum.value < 5e6 ? '10⁶' : '10⁷'","tickSize":-7,"tickWidth":1.2,"labelPadding":13,"title":"lᵢ (km)","titlePadding":11}},
"y":{"field":"y","type":"quantitative","scale":{"type":"log","domain":[1e-7,0.1],"nice":false},"axis":{"orient":"left","values":[1e-7,1e-6,1e-5,1e-4,1e-3,1e-2,1e-1],"labels":false,"tickSize":-7,"tickWidth":1.2,"title":null}},
"y2":{"field":"y2"},
"color":{"field":"c","type":"quantitative","scale":{"domain":[0.2,0.28,0.36,0.44,0.52,0.6,0.68,0.76,0.84,0.92,1.0],"range":["#7f3b08","#b35806","#e08214","#fdb863","#fee0b6","#f7f7f7","#d8daeb","#b2abd2","#8073ac","#542788","#2d004b"],"interpolate":"rgb"},"legend":null},
"stroke":{"field":"c","type":"quantitative","scale":{"domain":[0.2,0.28,0.36,0.44,0.52,0.6,0.68,0.76,0.84,0.92,1.0],"range":["#7f3b08","#b35806","#e08214","#fdb863","#fee0b6","#f7f7f7","#d8daeb","#b2abd2","#8073ac","#542788","#2d004b"],"interpolate":"rgb"},"legend":null},
"detail":{"field":"c","type":"nominal"}}},
{"data":{"name":"limh"},"mark":{"type":"rule","color":"black","strokeWidth":3},
"encoding":{
"x":{"datum":10000,"type":"quantitative","scale":{"type":"log","domain":[10000,10000000],"nice":false},"axis":{"orient":"top","values":[1e4,1e5,1e6,1e7],"labels":false,"tickSize":-7,"tickWidth":1.2,"title":null}},
"x2":{"datum":10000000},
"y":{"field":"F","type":"quantitative","scale":{"type":"log","domain":[1e-7,0.1],"nice":false},"axis":{"orient":"right","values":[1e-7,1e-6,1e-5,1e-4,1e-3,1e-2,1e-1],"labels":false,"tickSize":-7,"tickWidth":1.2,"title":null}}}},
{"data":{"name":"limh"},"mark":{"type":"rule","color":"black","strokeWidth":3},
"encoding":{
"x":{"field":"l","type":"quantitative","scale":{"type":"log","domain":[10000,10000000],"nice":false},"axis":{"orient":"bottom","values":[2e4,3e4,4e4,5e4,6e4,7e4,8e4,9e4,2e5,3e5,4e5,5e5,6e5,7e5,8e5,9e5,2e6,3e6,4e6,5e6,6e6,7e6,8e6,9e6],"labels":false,"tickSize":-4,"tickWidth":0.9,"title":null}},
"y":{"field":"F","type":"quantitative","scale":{"type":"log","domain":[1e-7,0.1],"nice":false},"axis":{"orient":"left","values":[2e-7,3e-7,4e-7,5e-7,6e-7,7e-7,8e-7,9e-7,2e-6,3e-6,4e-6,5e-6,6e-6,7e-6,8e-6,9e-6,2e-5,3e-5,4e-5,5e-5,6e-5,7e-5,8e-5,9e-5,2e-4,3e-4,4e-4,5e-4,6e-4,7e-4,8e-4,9e-4,2e-3,3e-3,4e-3,5e-3,6e-3,7e-3,8e-3,9e-3,2e-2,3e-2,4e-2,5e-2,6e-2,7e-2,8e-2,9e-2],"labels":false,"tickSize":-4,"tickWidth":0.9,"title":null}},
"y2":{"field":"Fh"}}},
{"data":{"name":"limh"},"mark":{"type":"point","shape":"triangle-down","filled":true,"size":290,"color":"black","opacity":1,"strokeWidth":0},
"encoding":{
"x":{"field":"l","type":"quantitative","scale":{"type":"log","domain":[10000,10000000],"nice":false},"axis":{"orient":"top","values":[2e4,3e4,4e4,5e4,6e4,7e4,8e4,9e4,2e5,3e5,4e5,5e5,6e5,7e5,8e5,9e5,2e6,3e6,4e6,5e6,6e6,7e6,8e6,9e6],"labels":false,"tickSize":-4,"tickWidth":0.9,"title":null}},
"y":{"field":"Fh","type":"quantitative","scale":{"type":"log","domain":[1e-7,0.1],"nice":false},"axis":{"orient":"right","values":[2e-7,3e-7,4e-7,5e-7,6e-7,7e-7,8e-7,9e-7,2e-6,3e-6,4e-6,5e-6,6e-6,7e-6,8e-6,9e-6,2e-5,3e-5,4e-5,5e-5,6e-5,7e-5,8e-5,9e-5,2e-4,3e-4,4e-4,5e-4,6e-4,7e-4,8e-4,9e-4,2e-3,3e-3,4e-3,5e-3,6e-3,7e-3,8e-3,9e-3,2e-2,3e-2,4e-2,5e-2,6e-2,7e-2,8e-2,9e-2],"labels":false,"tickSize":-4,"tickWidth":0.9,"title":null}}}}
]}
]
}
